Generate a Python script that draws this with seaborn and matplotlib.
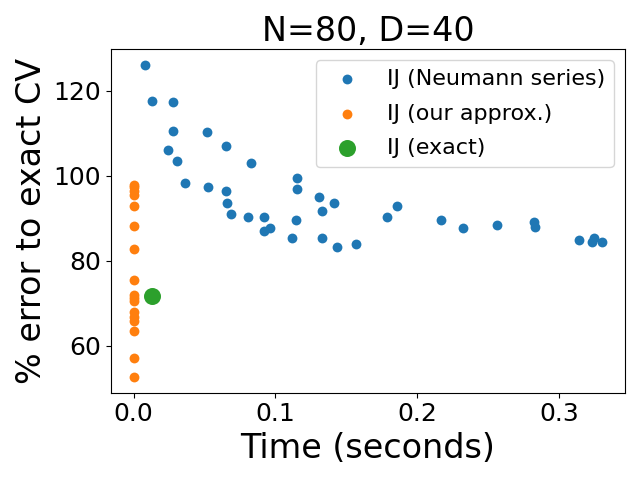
import numpy as np
import matplotlib
matplotlib.use("Agg")
import matplotlib.pyplot as plt
import pandas as pd
import seaborn as sns

# values
neumann_time = [0.0083, 0.0127, 0.0279, 0.0279, 0.0518, 0.0243, 0.0308, 0.0649,
                0.0830, 0.0366, 0.0525, 0.0649, 0.0656, 0.0685, 0.0808, 0.0917,
                0.0917, 0.0960, 0.1156, 0.1156, 0.1308, 0.1417, 0.1330, 0.1149,
                0.1120, 0.1330, 0.1438, 0.1569, 0.1786, 0.1859, 0.2170, 0.2322,
                0.2562, 0.2822, 0.2830, 0.3141, 0.3250, 0.3236, 0.3301]
neumann_err = [126.1, 117.6, 117.4, 110.5, 110.3, 106.0, 103.4, 107.0,
               102.9, 98.4, 97.3, 96.5, 93.5, 90.9, 90.2, 90.4,
               86.9, 87.8, 99.4, 97.0, 94.9, 93.7, 91.6, 89.5,
               85.4, 85.4, 83.3, 84.0, 90.2, 92.8, 89.5, 87.8,
               88.5, 89.2, 88.0, 85.0, 85.4, 84.3, 84.5]

approx_time = [0.0006] * 17
approx_err = [97.9, 97.3, 96.5, 95.5, 93.0, 88.2, 82.8, 75.5, 71.9,
              71.3, 70.5, 68.0, 66.8, 65.8, 63.4, 57.0, 52.6]

exact_time = [0.0129]
exact_err = [71.8]

fig, ax = plt.subplots(figsize=(6.4, 4.8))

sns.scatterplot(x=neumann_time, y=neumann_err, color='tab:blue', s=50,
                linewidth=0, label='IJ (Neumann series)', ax=ax)
sns.scatterplot(x=approx_time, y=approx_err, color='tab:orange', s=50,
                linewidth=0, label='IJ (our approx.)', ax=ax)
sns.scatterplot(x=exact_time, y=exact_err, color='tab:green', s=150,
                linewidth=0, label='IJ (exact)', ax=ax)

ax.set_title('N=80, D=40', fontsize=24)
ax.set_xlabel('Time (seconds)', fontsize=24)
ax.set_ylabel('% error to exact CV', fontsize=24)
ax.tick_params(labelsize=18)
ax.legend(fontsize=16, labelspacing=0.65)

plt.tight_layout()
plt.savefig('out.png', dpi=100)
